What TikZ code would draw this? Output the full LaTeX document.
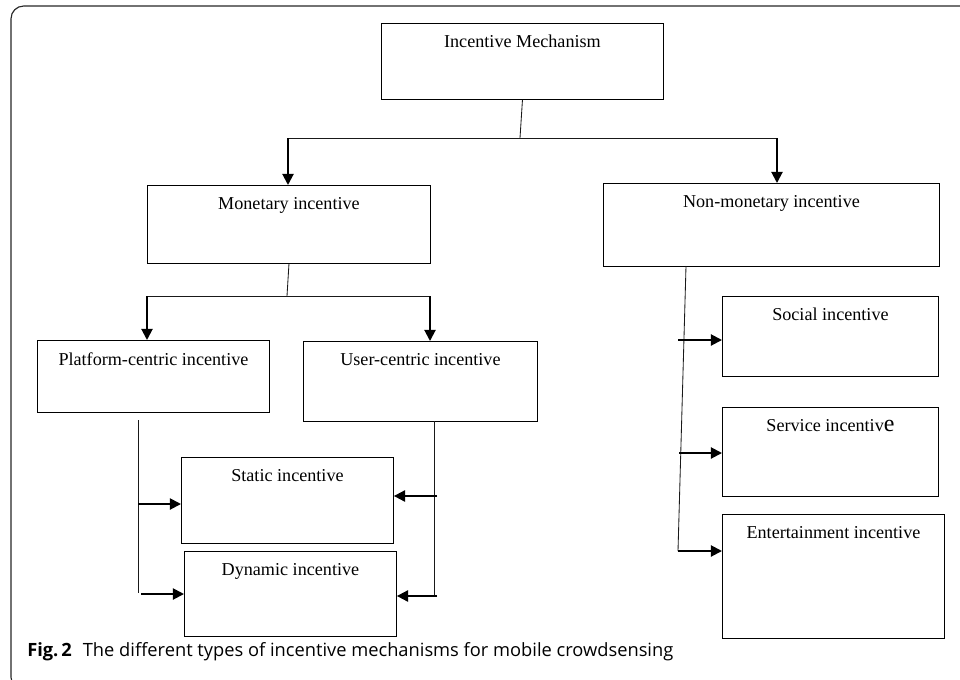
\documentclass[tikz,border=0pt]{standalone}
\usepackage{fontspec}
\setmainfont{Liberation Serif}
\newfontfamily\capfont{Open Sans}
\usetikzlibrary{positioning,arrows.meta}

\tikzset{
  box/.style={draw, rectangle, anchor=north west, inner sep=0pt, line width=0.6pt},
  boxtext/.style={inner sep=0pt, font=\fontsize{12.9}{15}\selectfont},
  conn/.style={line width=0.6pt, black!90},
  arr/.style={line width=1.4pt, -{Triangle[length=8pt,width=8pt]}},
}

\begin{document}
\begin{tikzpicture}[x=0.025cm, y=-0.025cm]
  \useasboundingbox (0,0) rectangle (960,679);
  \clip (0,0) rectangle (960,679);

  % Frame
  \draw[rounded corners=9pt, line width=0.8pt, black!85] (11,6) rectangle (990,690);

  % Boxes
  \node[box, minimum width=7.05cm, minimum height=1.9cm] (mech) at (381,23) {};
  \node[box, minimum width=7.075cm, minimum height=1.95cm] (mon) at (147,185) {};
  \node[box, minimum width=8.4cm, minimum height=2.075cm] (nonmon) at (603,183) {};
  \node[box, minimum width=5.8cm, minimum height=1.8cm] (plat) at (37,340) {};
  \node[box, minimum width=5.85cm, minimum height=2.0cm] (user) at (303,341) {};
  \node[box, minimum width=5.3cm, minimum height=2.15cm] (stat) at (181,457) {};
  \node[box, minimum width=5.3cm, minimum height=2.125cm] (dyn) at (184,551) {};
  \node[box, minimum width=5.4cm, minimum height=2.0cm] (soc) at (722,296) {};
  \node[box, minimum width=5.4cm, minimum height=2.225cm] (serv) at (722,407) {};
  \node[box, minimum width=5.55cm, minimum height=3.1cm] (ent) at (722,514) {};

  % Box texts
  \node[boxtext, below=8.5pt of mech.north] (mech-t) {Incentive Mechanism};
  \node[boxtext, below=8.5pt of mon.north] (mon-t) {Monetary incentive};
  \node[boxtext, below=8.5pt of nonmon.north] (nonmon-t) {Non-monetary incentive};
  \node[boxtext, below=8.5pt of plat.north] (plat-t) {Platform-centric incentive};
  \node[boxtext, below=8.5pt of user.north] (user-t) {User-centric incentive};
  \node[boxtext, below=8.5pt of stat.north] (stat-t) {Static incentive};
  \node[boxtext, below=8.5pt of dyn.north] (dyn-t) {Dynamic incentive};
  \node[boxtext, below=8.5pt of soc.north] (soc-t) {Social incentive};
  \node[boxtext, below=8.5pt of serv.north] (serv-t) {Service incentiv{\fontsize{17}{17}\selectfont e}};
  \node[boxtext, below=8.5pt of ent.north] (ent-t) {Entertainment incentive};

  % Joints
  \coordinate (j1) at (520,138);
  \coordinate (j1l) at (288,138);
  \coordinate (j1r) at (777,138);
  \coordinate (j2) at (287,296);
  \coordinate (j2l) at (147,296);
  \coordinate (j2r) at (430,296);
  \coordinate (pt) at (138,420);
  \coordinate (pb) at (138,593);
  \coordinate (pa1) at (138,504);
  \coordinate (pa2) at (141,594);
  \coordinate (ut) at (434,421);
  \coordinate (ub) at (434,596);
  \coordinate (ua1) at (437,496);
  \coordinate (ua2) at (437,596);
  \coordinate (nt) at (686,266);
  \coordinate (nb) at (678,551);
  \coordinate (na1) at (678,340);
  \coordinate (na2) at (679,453);

  % Top level
  \draw[conn] (mech.south) -- (j1);
  \draw[conn] (j1l) -- (j1r);
  \draw[arr] (j1l) -- (j1l |- mon.north);
  \draw[arr] (j1r) -- (j1r |- nonmon.north);

  % Monetary branch
  \draw[conn] (mon.south) -- (j2);
  \draw[conn] (j2l) -- (j2r);
  \draw[arr] (j2l) -- (j2l |- plat.north);
  \draw[arr] (j2r) -- (j2r |- user.north);

  \draw[conn] (pt) -- (pb);
  \draw[arr] (pa1) -- (pa1 -| stat.west);
  \draw[arr] (pa2) -- (pa2 -| dyn.west);

  \draw[conn] (ut) -- (ub);
  \draw[arr] (ua1) -- (ua1 -| stat.east);
  \draw[arr] (ua2) -- (ua2 -| dyn.east);

  % Non-monetary branch
  \draw[conn] (nt) -- (nb);
  \draw[arr] (na1) -- (na1 -| soc.west);
  \draw[arr] (na2) -- (na2 -| serv.west);
  \draw[arr] (nb) -- (nb -| ent.west);

  % Caption
  \node[anchor=base west, inner sep=0pt, font=\capfont\fontsize{13}{15}\selectfont] (cap) at (27,656)
    {\textbf{Fig.\,2}\hspace{0.6em}The different types of incentive mechanisms for mobile crowdsensing};
\end{tikzpicture}
\end{document}
